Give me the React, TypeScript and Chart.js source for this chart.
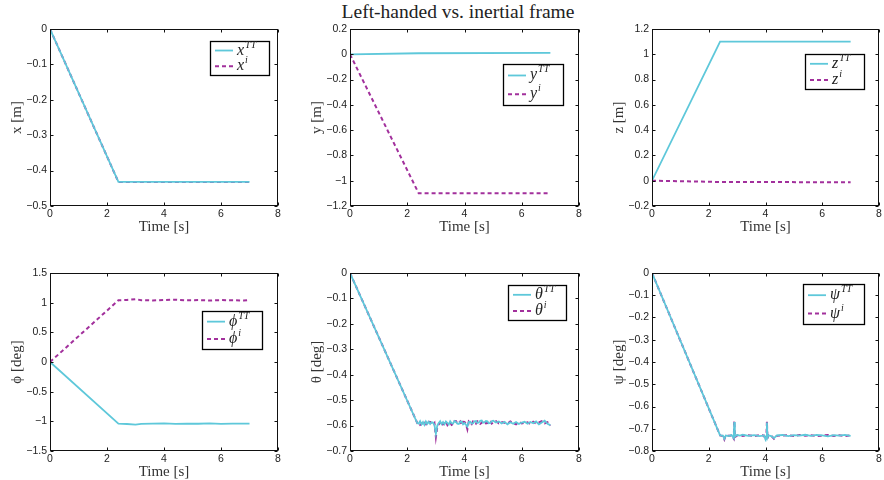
import React, { useEffect, useRef } from 'react';
import { Chart, registerables } from 'chart.js';

Chart.register(...registerables);

// ---------------- data ----------------
const X_TICKS = [0, 2, 4, 6, 8];

const T_LIN = [0, 2.4, 7.0];
const X_TT = [0, -0.432, -0.432];
const X_I = [0, -0.432, -0.432];
const X_YTICKS = [-0.5, -0.4, -0.3, -0.2, -0.1, 0];

const Y_TT = [0, 0.008, 0.011];
const Y_I = [0, -1.1, -1.1];
const Y_YTICKS = [-1.2, -1.0, -0.8, -0.6, -0.4, -0.2, 0, 0.2];

const Z_TT = [0, 1.1, 1.1];
const Z_I = [0, -0.01, -0.012];
const Z_YTICKS = [-0.2, 0, 0.2, 0.4, 0.6, 0.8, 1.0, 1.2];

const T_PHI = [0, 2.4, 2.7, 3.0, 3.2, 3.6, 4.0, 4.4, 4.8, 5.2, 5.6, 6.0, 6.4, 6.8, 7.0];
const PHI_TT = [0, -1.04, -1.045, -1.055, -1.042, -1.04, -1.035, -1.043, -1.038, -1.041, -1.036, -1.042, -1.038, -1.04, -1.04];
const PHI_I = [0, 1.04, 1.045, 1.06, 1.042, 1.038, 1.045, 1.05, 1.04, 1.043, 1.037, 1.044, 1.04, 1.036, 1.042];
const PHI_YTICKS = [-1.5, -1, -0.5, 0, 0.5, 1, 1.5];

const T_TH = [
  0, 2.35, 2.4, 2.45, 2.5, 2.55, 2.6, 2.65, 2.7, 2.75, 2.8, 2.85, 2.9, 2.95, 3.0, 3.05,
  3.1, 3.15, 3.2, 3.25, 3.3, 3.35, 3.4, 3.45, 3.5, 3.55, 3.6, 3.65, 3.7, 3.75, 3.8, 3.85, 3.9, 3.95, 4.0,
  4.05, 4.1, 4.15, 4.2, 4.25, 4.3, 4.35, 4.4, 4.45, 4.5, 4.55, 4.6, 4.65, 4.7, 4.75, 4.8, 4.85, 4.9, 4.95, 5.0,
  5.1, 5.2, 5.3, 5.4, 5.5, 5.6, 5.7, 5.8, 5.9, 6.0,
  6.1, 6.2, 6.3, 6.4, 6.5, 6.6, 6.7, 6.8, 6.9, 7.0,
];
const TH_TT = [
  0, -0.59, -0.592, -0.583, -0.595, -0.586, -0.597, -0.584, -0.593, -0.585, -0.594, -0.587, -0.588, -0.598, -0.632, -0.6,
  -0.59, -0.583, -0.594, -0.586, -0.595, -0.584, -0.589, -0.596, -0.583, -0.591, -0.592, -0.582, -0.586, -0.593, -0.594, -0.585, -0.584, -0.595, -0.59,
  -0.597, -0.604, -0.586, -0.585, -0.592, -0.591, -0.583, -0.582, -0.59, -0.588, -0.581, -0.58, -0.589, -0.587, -0.582, -0.583, -0.591, -0.59, -0.583, -0.581,
  -0.588, -0.584, -0.592, -0.585, -0.595, -0.587, -0.593, -0.586, -0.594, -0.588,
  -0.585, -0.593, -0.586, -0.591, -0.584, -0.595, -0.588, -0.581, -0.593, -0.598,
];
const TH_I = [
  0, -0.59, -0.588, -0.597, -0.594, -0.584, -0.583, -0.595, -0.596, -0.585, -0.586, -0.596, -0.597, -0.59, -0.645, -0.605,
  -0.595, -0.588, -0.583, -0.595, -0.59, -0.584, -0.597, -0.586, -0.587, -0.597, -0.594, -0.583, -0.582, -0.592, -0.589, -0.584, -0.596, -0.585, -0.586,
  -0.593, -0.614, -0.584, -0.589, -0.594, -0.583, -0.586, -0.592, -0.583, -0.585, -0.593, -0.589, -0.581, -0.582, -0.591, -0.59, -0.582, -0.584, -0.592, -0.588,
  -0.583, -0.591, -0.586, -0.589, -0.592, -0.584, -0.59, -0.595, -0.585, -0.592,
  -0.589, -0.587, -0.594, -0.585, -0.592, -0.588, -0.583, -0.591, -0.587, -0.6,
];
const TH_YTICKS = [-0.7, -0.6, -0.5, -0.4, -0.3, -0.2, -0.1, 0];

const T_PSI = [
  0, 2.4, 2.5, 2.55, 2.6, 2.7, 2.8, 2.88, 2.9, 2.92,
  3.0, 3.1, 3.2, 3.4, 3.6, 3.8, 3.95, 4.0, 4.03, 4.05,
  4.07, 4.1, 4.2, 4.3, 4.4, 4.6, 4.8, 5.0, 5.2, 5.4,
  5.6, 5.8, 6.0, 6.2, 6.4, 6.6, 6.8, 7.0,
];
const PSI_TT = [
  0, -0.73, -0.731, -0.745, -0.73, -0.733, -0.728, -0.742, -0.67, -0.735,
  -0.728, -0.731, -0.727, -0.732, -0.729, -0.733, -0.73, -0.748, -0.735, -0.672,
  -0.74, -0.73, -0.733, -0.742, -0.73, -0.728, -0.733, -0.729, -0.731, -0.727,
  -0.732, -0.728, -0.73, -0.734, -0.729, -0.731, -0.728, -0.732,
];
const PSI_I = [
  0, -0.73, -0.733, -0.748, -0.729, -0.731, -0.73, -0.745, -0.665, -0.738,
  -0.73, -0.728, -0.732, -0.729, -0.733, -0.728, -0.731, -0.75, -0.738, -0.668,
  -0.744, -0.728, -0.731, -0.745, -0.732, -0.73, -0.729, -0.733, -0.728, -0.731,
  -0.729, -0.733, -0.731, -0.728, -0.732, -0.729, -0.733, -0.73,
];
const PSI_YTICKS = [-0.8, -0.7, -0.6, -0.5, -0.4, -0.3, -0.2, -0.1, 0];

const TITLE = 'Left-handed vs. inertial frame';
const X_LABEL = 'Time [s]';

// ---------------- styles ----------------
const CYAN = '#5ec8da';
const MAGENTA = '#a2309c';
const SERIF = '"Liberation Serif", "DejaVu Serif", serif';
const SANS = '"Liberation Sans", Arial, sans-serif';

type PanelDef = {
  sym: string;
  yLabel: string;
  t: number[];
  tt: number[];
  ii: number[];
  yTicks: number[];
  rect: [number, number, number, number];
  leg: [number, number, number, number]; // right inset, top inset, w, h
};

const PANELS: PanelDef[] = [
  { sym: 'x', yLabel: 'x [m]', t: T_LIN, tt: X_TT, ii: X_I, yTicks: X_YTICKS, rect: [50, 29, 228, 177], leg: [9, 12, 59, 34] },
  { sym: 'y', yLabel: 'y [m]', t: T_LIN, tt: Y_TT, ii: Y_I, yTicks: Y_YTICKS, rect: [350, 29, 229, 177], leg: [16, 35, 60, 41] },
  { sym: 'z', yLabel: 'z [m]', t: T_LIN, tt: Z_TT, ii: Z_I, yTicks: Z_YTICKS, rect: [652, 29, 227, 177], leg: [15, 25, 59, 35] },
  { sym: 'ϕ', yLabel: 'ϕ [deg]', t: T_PHI, tt: PHI_TT, ii: PHI_I, yTicks: PHI_YTICKS, rect: [50, 273, 228, 178], leg: [16, 38, 60, 38] },
  { sym: 'θ', yLabel: 'θ [deg]', t: T_TH, tt: TH_TT, ii: TH_I, yTicks: TH_YTICKS, rect: [350, 273, 229, 178], leg: [13, 12, 58, 35] },
  { sym: 'ψ', yLabel: 'ψ [deg]', t: T_PSI, tt: PSI_TT, ii: PSI_I, yTicks: PSI_YTICKS, rect: [652, 273, 227, 178], leg: [15, 11, 61, 40] },
];

const fmt = (v: number) => {
  const n = Math.round(v * 100) / 100;
  if (n === 0) return '0';
  return n < 0 ? '\u2212' + String(Math.abs(n)) : String(n);
};

const framePlugin = {
  id: 'frame',
  afterDatasetsDraw(chart: any) {
    const { ctx, chartArea: a, scales } = chart;
    ctx.save();
    ctx.strokeStyle = '#111';
    ctx.lineWidth = 1;
    const L = Math.round(a.left) + 0.5, R = Math.round(a.right) - 0.5;
    const T = Math.round(a.top) + 0.5, B = Math.round(a.bottom) - 0.5;
    ctx.strokeRect(L, T, R - L, B - T);
    ctx.beginPath();
    const tl = 3;
    scales.x.ticks.forEach((tk: any) => {
      const px = Math.round(scales.x.getPixelForValue(tk.value)) + 0.5;
      ctx.moveTo(px, B); ctx.lineTo(px, B - tl);
      ctx.moveTo(px, T); ctx.lineTo(px, T + tl);
    });
    scales.y.ticks.forEach((tk: any) => {
      const py = Math.round(scales.y.getPixelForValue(tk.value)) + 0.5;
      ctx.moveTo(L, py); ctx.lineTo(L + tl, py);
      ctx.moveTo(R, py); ctx.lineTo(R - tl, py);
    });
    ctx.stroke();
    ctx.restore();
  },
};

const legendPlugin = {
  id: 'boxLegend',
  afterDraw(chart: any, _args: any, opts: any) {
    const { ctx, chartArea: a } = chart;
    const [ri, ti, w, h] = opts.leg;
    const x0 = Math.round(a.right - ri - w);
    const y0 = Math.round(a.top + ti);
    ctx.save();
    ctx.fillStyle = '#fff';
    ctx.fillRect(x0, y0, w, h);
    ctx.strokeStyle = '#000';
    ctx.lineWidth = 1.3;
    ctx.strokeRect(x0 + 0.5, y0 + 0.5, w, h);
    const rows = [
      { color: CYAN, dash: [] as number[], sup: 'TT', width: 1.8, fy: 0.28 },
      { color: MAGENTA, dash: [4, 3], sup: 'i', width: 2, fy: 0.74 },
    ];
    rows.forEach((r) => {
      const y = y0 + h * r.fy;
      ctx.beginPath();
      ctx.setLineDash(r.dash);
      ctx.strokeStyle = r.color;
      ctx.lineWidth = r.width;
      ctx.moveTo(x0 + 5, y);
      ctx.lineTo(x0 + 23, y);
      ctx.stroke();
      ctx.setLineDash([]);
      ctx.fillStyle = '#222';
      ctx.textBaseline = 'alphabetic';
      ctx.textAlign = 'left';
      ctx.font = `italic 16px ${SERIF}`;
      ctx.fillText(opts.sym, x0 + 27, y + 4);
      const sw = ctx.measureText(opts.sym).width;
      ctx.font = `italic 10px ${SERIF}`;
      ctx.fillText(r.sup, x0 + 27 + sw + 1, y - 3);
    });
    ctx.restore();
  },
};

function Panel({ p }: { p: PanelDef }) {
  const ref = useRef<HTMLCanvasElement>(null);
  const [l, t, w, h] = p.rect;
  const padRight = Math.min(10, 884 - (l + w));
  const cw = 50 + w + padRight;
  const ch = 20 + h + 40;

  useEffect(() => {
    if (!ref.current) return;
    const chart = new Chart(ref.current, {
      type: 'line',
      data: {
        datasets: [
          {
            data: p.t.map((x, i) => ({ x, y: p.tt[i] })),
            borderColor: CYAN,
            borderWidth: 1.8,
            pointRadius: 0,
            tension: 0,
          },
          {
            data: p.t.map((x, i) => ({ x, y: p.ii[i] })),
            borderColor: MAGENTA,
            borderWidth: 2,
            borderDash: [4, 3],
            pointRadius: 0,
            tension: 0,
          },
        ],
      },
      options: {
        animation: false,
        responsive: false,
        devicePixelRatio: 1,
        events: [],
        layout: { autoPadding: false, padding: { left: 0, top: 20, right: padRight, bottom: 0 } },
        plugins: {
          legend: { display: false },
          tooltip: { enabled: false },
          title: { display: false },
          boxLegend: { leg: p.leg, sym: p.sym },
        } as any,
        scales: {
          x: {
            type: 'linear',
            position: 'bottom',
            min: X_TICKS[0],
            max: X_TICKS[X_TICKS.length - 1],
            afterBuildTicks: (s: any) => { s.ticks = X_TICKS.map((v) => ({ value: v })); },
            afterFit: (s: any) => { s.height = 40; },
            grid: { display: false, drawTicks: false },
            border: { display: false },
            ticks: {
              color: '#222',
              font: { family: SANS, size: 10.5 },
              padding: 2,
              maxRotation: 0,
              autoSkip: false,
              callback: (v: any) => fmt(Number(v)),
            },
            title: {
              display: true,
              text: X_LABEL,
              color: '#333',
              font: { family: SERIF, size: 15 },
              padding: { top: 0, bottom: 10 },
            },
          },
          y: {
            type: 'linear',
            position: 'left',
            min: p.yTicks[0],
            max: p.yTicks[p.yTicks.length - 1],
            afterBuildTicks: (s: any) => { s.ticks = p.yTicks.map((v) => ({ value: v })); },
            afterFit: (s: any) => { s.width = 50; },
            grid: { display: false, drawTicks: false },
            border: { display: false },
            ticks: {
              color: '#222',
              font: { family: SANS, size: 10.5 },
              padding: 3,
              autoSkip: false,
              callback: (v: any) => fmt(Number(v)),
            },
            title: {
              display: true,
              text: p.yLabel,
              color: '#333',
              font: { family: SERIF, size: 15 },
              padding: { top: 8, bottom: 0 },
            },
          },
        },
      } as any,
      plugins: [framePlugin, legendPlugin],
    });
    return () => chart.destroy();
  }, [p]);

  return (
    <canvas
      ref={ref}
      width={cw}
      height={ch}
      style={{ position: 'absolute', left: l - 50, top: t - 20, width: cw, height: ch }}
    />
  );
}

export default function App() {
  return (
    <div
      style={{
        position: 'absolute',
        left: 0,
        top: 0,
        width: 884,
        height: 480,
        overflow: 'hidden',
        background: '#fff',
      }}
    >
      <div
        style={{
          position: 'absolute',
          left: 258,
          top: 1,
          width: 400,
          textAlign: 'center',
          fontFamily: SERIF,
          fontSize: 19.5,
          color: '#222',
          whiteSpace: 'nowrap',
        }}
      >
        {TITLE}
      </div>
      {PANELS.map((p, i) => (
        <Panel key={i} p={p} />
      ))}
    </div>
  );
}
